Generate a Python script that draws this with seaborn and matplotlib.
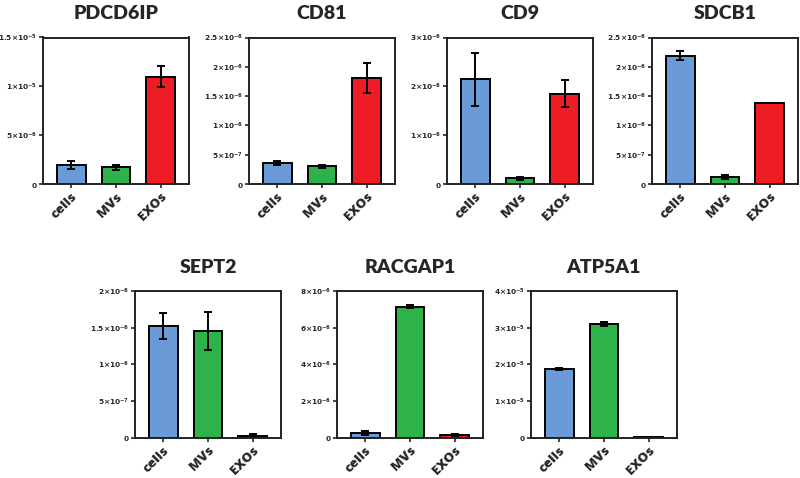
import pandas as pd
import seaborn as sns
import matplotlib.pyplot as plt

# groups and colours
groups = ["cells", "MVs", "EXOs"]
bar_colors = ["#6a9bd8", "#2db34a", "#ee1c25"]

# values (mean, error)
pdcd6ip_mean = [1.97e-6, 1.70e-6, 1.10e-5]
pdcd6ip_err = [0.40e-6, 0.27e-6, 1.10e-6]
cd81_mean = [3.56e-7, 2.99e-7, 1.81e-6]
cd81_err = [0.40e-7, 0.30e-7, 0.25e-6]
cd9_mean = [2.14e-6, 1.15e-7, 1.85e-6]
cd9_err = [0.55e-6, 0.35e-7, 0.28e-6]
sdcb1_mean = [2.19e-6, 1.12e-7, 1.38e-6]
sdcb1_err = [0.08e-6, 0.35e-7, 0.0]
sept2_mean = [1.52e-6, 1.45e-6, 2.7e-8]
sept2_err = [0.18e-6, 0.26e-6, 2.5e-8]
racgap1_mean = [2.2e-7, 7.15e-6, 1.45e-7]
racgap1_err = [1.1e-7, 0.10e-6, 0.7e-7]
atp5a1_mean = [1.873e-5, 3.09e-5, 5e-8]
atp5a1_err = [0.03e-5, 0.05e-5, 1.5e-7]

# y ticks per panel
pdcd6ip_ticks = [0, 5e-6, 1e-5, 1.5e-5]
cd81_ticks = [0, 5e-7, 1e-6, 1.5e-6, 2e-6, 2.5e-6]
cd9_ticks = [0, 1e-6, 2e-6, 3e-6]
sdcb1_ticks = [0, 5e-7, 1e-6, 1.5e-6, 2e-6, 2.5e-6]
sept2_ticks = [0, 5e-7, 1e-6, 1.5e-6, 2e-6]
racgap1_ticks = [0, 2e-6, 4e-6, 6e-6, 8e-6]
atp5a1_ticks = [0, 1e-5, 2e-5, 3e-5, 4e-5]

panels = [
    ("PDCD6IP", pdcd6ip_mean, pdcd6ip_err, pdcd6ip_ticks, [43, 37.5]),
    ("CD81", cd81_mean, cd81_err, cd81_ticks, [249, 37.5]),
    ("CD9", cd9_mean, cd9_err, cd9_ticks, [447, 37.5]),
    ("SDCB1", sdcb1_mean, sdcb1_err, sdcb1_ticks, [652, 37.5]),
    ("SEPT2", sept2_mean, sept2_err, sept2_ticks, [135, 291]),
    ("RACGAP1", racgap1_mean, racgap1_err, racgap1_ticks, [337, 291]),
    ("ATP5A1", atp5a1_mean, atp5a1_err, atp5a1_ticks, [531, 291]),
]

sns.set_style("ticks")
plt.rcParams['font.family'] = ['Lato', 'DejaVu Sans']
plt.rcParams['mathtext.fontset'] = 'dejavusans'

W, H = 800, 478
fig = plt.figure(figsize=(W / 100, H / 100), dpi=100)


def tick_label(v):
    if v == 0:
        return r"$\mathbf{0}$"
    s = f"{v:.1e}"
    m, e = s.split("e")
    m = m.rstrip("0").rstrip(".")
    return r"$\mathbf{" + m + r"{\times}10^{" + str(int(e)) + r"}}$"


for name, mean, err, ticks, (px, py) in panels:
    ax = fig.add_axes([px / W, 1 - (py + 146.5) / H, 146 / W, 146.5 / H])
    df = pd.DataFrame({"group": groups, "value": mean})
    sns.barplot(data=df, x="group", y="value", hue="group", palette=bar_colors,
                saturation=1, width=0.65, edgecolor="black", linewidth=1.4,
                legend=False, ax=ax)
    ax.errorbar(range(3), mean, yerr=err, fmt="none", ecolor="black",
                elinewidth=1.4, capsize=3, capthick=1.4)
    ax.set_xlim(-0.64, 2.64)
    ax.set_ylim(0, ticks[-1])
    ax.set_yticks(ticks)
    ax.set_yticklabels([tick_label(t) for t in ticks], fontsize=5.3)
    ax.set_xlabel("")
    ax.set_ylabel("")
    ax.set_xticks(range(3))
    ax.set_xticklabels(groups, rotation=45, ha="right", rotation_mode="anchor",
                       fontsize=9.5, fontweight="heavy", family="Open Sans")
    ax.tick_params(axis="y", length=3, width=1.2, pad=1)
    ax.tick_params(axis="x", length=3, width=1.2, pad=2)
    for sp in ax.spines.values():
        sp.set_linewidth(1.4)
        sp.set_color("#222222")
    ax.set_title(name, fontsize=14, fontweight="heavy", pad=13)

fig.savefig("out.png", dpi=100)
